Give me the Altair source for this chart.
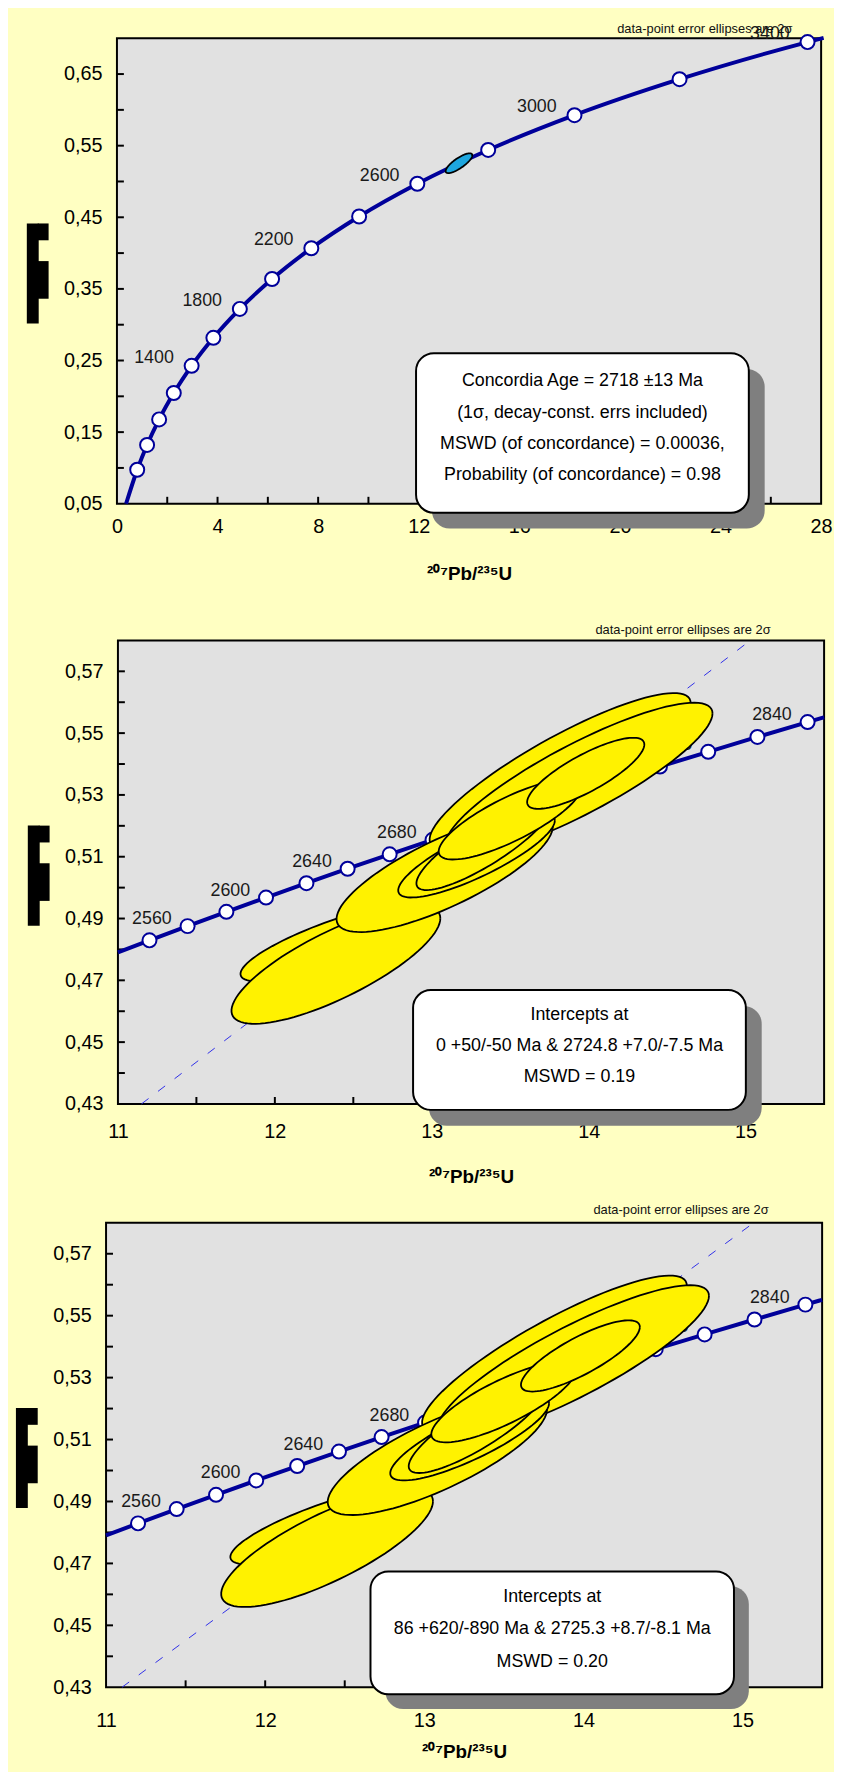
import altair as alt
import numpy as np
import pandas as pd

BG = "#FFFFC2"
PLOT_BG = "#E1E1E1"
NAVY = "#00009A"
YELLOW = "#FFF200"
CYAN = "#1EA6DE"
FONT = "Liberation Sans"
NOTE = "data-point error ellipses are 2σ"
XTITLE = "²⁰⁷Pb/²³⁵U"

# ---------------- panel 1 : concordia 0-28 ----------------
p1_ages = [600, 800, 1000, 1200, 1400, 1600, 1800, 2000, 2200, 2400, 2600, 2800, 3000, 3200, 3400]
p1_x = [0.8056, 1.1987, 1.6774, 2.2603, 2.9701, 3.8344, 4.8871, 6.1685, 7.7292, 9.6296,
        11.9437, 14.7616, 18.193, 22.371, 27.460]
p1_y = [0.0975, 0.1321, 0.1678, 0.2046, 0.2426, 0.2817, 0.3221, 0.3638, 0.4068, 0.4511,
        0.4968, 0.5440, 0.5926, 0.6428, 0.6946]
p1_labels = [1400, 1800, 2200, 2600, 3000, 3400]
p1_curve_x = [0.363] + p1_x + [28.10]
p1_curve_y = [0.050] + p1_y + [0.7005]
p1_xlab = [0, 4, 8, 12, 16, 20, 24, 28]
p1_xtick = [2, 4, 6, 8, 10, 12, 14, 16, 18, 20, 22, 24, 26]
p1_ylab = [0.05, 0.15, 0.25, 0.35, 0.45, 0.55, 0.65]
p1_ytick = [0.10, 0.15, 0.20, 0.25, 0.30, 0.35, 0.40, 0.45, 0.50, 0.55, 0.60, 0.65]
# concordia-age ellipse: centre x, centre y, half-width x, half-height y, correlation
p1_ell = [(13.60, 0.5255, 0.53, 0.0138, 0.80)]
p1_box = ["Concordia Age = 2718 ±13 Ma", "(1σ, decay-const. errs included)",
          "MSWD (of concordance) = 0.00036,", "Probability (of concordance) = 0.98"]

# ---------------- panels 2 and 3 : zoomed concordia ----------------
p23_ages = [2540, 2560, 2580, 2600, 2620, 2640, 2660, 2680, 2700, 2720, 2740, 2760, 2780, 2800, 2820, 2840]
p23_x = [11.2010, 11.4437, 11.6912, 11.9437, 12.2012, 12.4638, 12.7316, 13.0047, 13.2833, 13.5674,
         13.8572, 14.1527, 14.4542, 14.7616, 15.0751, 15.3949]
p23_y = [0.48293, 0.48754, 0.49216, 0.49679, 0.50145, 0.50611, 0.51079, 0.51548, 0.52020, 0.52492,
         0.52966, 0.53441, 0.53918, 0.54396, 0.54876, 0.55357]
p23_labels = [2560, 2600, 2640, 2680, 2720, 2760, 2800, 2840]
p23_curve_x = [11.0] + p23_x + [15.5]
p23_curve_y = [0.47906] + p23_y + [0.55513]
p23_xlab = [11, 12, 13, 14, 15]
p23_xtick = [11.5, 12, 12.5, 13, 13.5, 14, 14.5, 15]
p23_ylab = [0.43, 0.45, 0.47, 0.49, 0.51, 0.53, 0.55, 0.57]
p23_ytick = [0.44, 0.45, 0.46, 0.47, 0.48, 0.49, 0.50, 0.51, 0.52, 0.53, 0.54, 0.55, 0.56, 0.57]

# data-point error ellipses (back to front)
ell_cx = [13.818, 13.937, 12.409, 12.389, 13.082, 13.285, 13.333, 13.499, 13.981]
ell_cy = [0.5376, 0.5351, 0.4826, 0.4751, 0.5048, 0.5104, 0.5138, 0.5221, 0.5370]
ell_sx = [0.832, 0.852, 0.628, 0.6655, 0.689, 0.499, 0.431, 0.455, 0.3735]
ell_sy = [0.02535, 0.02473, 0.01299, 0.01917, 0.01917, 0.0136, 0.0146, 0.0130, 0.0115]
ell_rho = [0.87, 0.86, 0.81, 0.78, 0.78, 0.83, 0.85, 0.80, 0.81]
p23_ell = list(zip(ell_cx, ell_cy, ell_sx, ell_sy, ell_rho))

p2_disc_x = [11.15, 15.03]
p2_disc_y = [0.43, 0.58]
p3_disc_x = [11.10, 15.07]
p3_disc_y = [0.43, 0.58]

p2_box = ["Intercepts at", "0 +50/-50 Ma & 2724.8 +7.0/-7.5 Ma", "MSWD = 0.19"]
p3_box = ["Intercepts at", "86 +620/-890 Ma & 2725.3 +8.7/-8.1 Ma", "MSWD = 0.20"]


def ellipse_df(cx, cy, sx, sy, rho, n=96):
    t = np.linspace(0, 2 * np.pi, n)
    r = np.sqrt(1 - rho ** 2)
    return pd.DataFrame({"x": cx + sx * np.cos(t),
                         "y": cy + sy * (rho * np.cos(t) + r * np.sin(t)),
                         "i": np.arange(n)})


ONE = pd.DataFrame({"a": [0]})
RIGHT = 832      # right edge of the chart on the page
EXT = 95         # left extent of every panel beyond its plot area


def vrect(x1, x2, y1, y2, **kw):
    return alt.Chart(ONE).mark_rect(**kw).encode(
        x=alt.value(x1), x2=alt.value(x2), y=alt.value(y1), y2=alt.value(y2))


def vtext(s, x, y, **kw):
    return alt.Chart(ONE).mark_text(font=FONT, **kw).encode(
        x=alt.value(x), y=alt.value(y), text=alt.value(s))


def spacer(w):
    return vrect(0, 1, 0, 1, opacity=0).properties(
        width=w, height=1, view=alt.ViewBackground(fill="transparent", stroke="transparent"))


def panel(c):
    W, H, L, T = c["W"], c["H"], c["L"], c["T"]
    xs = alt.Scale(domain=c["xdom"], nice=False, zero=False)
    ys = alt.Scale(domain=c["ydom"], nice=False, zero=False)
    xaxis = alt.Axis(values=c["xlab"], format="d", title=XTITLE, labelFlush=False,
                     labelPadding=c["lpad"], titlePadding=c["tpad"])
    yaxis = alt.Axis(values=c["ylab"], title=None, labelPadding=15,
                     labelExpr="replace(format(datum.value, '.2f'), '.', ',')")
    X = alt.X("x:Q", scale=xs, axis=xaxis)
    Y = alt.Y("y:Q", scale=ys, axis=yaxis)

    layers = []
    # layout anchor (invisible): fixes the panel's extent on the page
    layers.append(vrect(-EXT, RIGHT - L, c["band"][0] - T, c["band"][1] - T, opacity=0))

    # inward tick marks
    layers.append(alt.Chart(pd.DataFrame({"x": c["xtick"]})).mark_rule(color="black", strokeWidth=2)
                  .encode(x=X, y=alt.value(H), y2=alt.value(H - 7)))
    layers.append(alt.Chart(pd.DataFrame({"y": c["ytick"]})).mark_rule(color="black", strokeWidth=2)
                  .encode(y=Y, x=alt.value(0), x2=alt.value(7)))

    if c.get("disc"):
        dx, dy = c["disc"]
        layers.append(alt.Chart(pd.DataFrame({"x": dx, "y": dy})).mark_line(
            color="#2F2FE8", strokeWidth=1, strokeDash=[9, 12]).encode(x=X, y=Y))

    cdf = pd.DataFrame({"x": c["cx"], "y": c["cy"], "i": range(len(c["cx"]))})
    layers.append(alt.Chart(cdf).mark_line(color=NAVY, strokeWidth=4, interpolate="monotone")
                  .encode(x=X, y=Y, order="i:Q"))
    mdf = pd.DataFrame({"x": c["mx"], "y": c["my"], "age": c["ages"]})
    layers.append(alt.Chart(mdf).mark_circle(color="white", stroke=NAVY, strokeWidth=2,
                                             size=200, opacity=1).encode(x=X, y=Y))
    ldf = mdf[mdf["age"].isin(c["labels"])]
    layers.append(alt.Chart(ldf).mark_text(font=FONT, fontSize=18, color="#1a1a1a",
                                           dx=c["ldx"], dy=c["ldy"])
                  .encode(x=X, y=Y, text="age:N"))

    for (ecx, ecy, esx, esy, er) in c["ell"]:
        layers.append(alt.Chart(ellipse_df(ecx, ecy, esx, esy, er)).mark_line(
            fill=c["ecolor"], stroke="black", strokeWidth=1.8, interpolate="linear")
            .encode(x=X, y=Y, order="i:Q"))

    # note above plot
    layers.append(vtext(NOTE, c["note"][0], c["note"][1], fontSize=13, align="right",
                        baseline="alphabetic", color="#111"))

    # garbled y-axis title (black blocks)
    layers.append(vrect(-91, -79, 187, 288, color="black"))
    layers.append(vrect(-80, -69, 187, 204, color="black"))
    layers.append(vrect(-80, -69, 225, 263, color="black"))

    # result box with shadow
    bx1, bx2, by1, by2 = c["box"]
    sh = c["shadow"]
    layers.append(vrect(bx1 + sh, bx2 + sh, by1 + sh, by2 + sh, color="#7F7F7F", cornerRadius=18))
    layers.append(vrect(bx1, bx2, by1, by2, fill="white", stroke="black", strokeWidth=2,
                        cornerRadius=18))
    for s, yy in zip(c["lines"], c["line_y"]):
        layers.append(vtext(s, (bx1 + bx2) / 2, yy, fontSize=18, align="center",
                            baseline="middle", color="black"))

    body = alt.layer(*layers).properties(width=W, height=H)
    # shift the panel horizontally on the page with an empty spacer to its left
    return alt.hconcat(spacer(L - 8 - EXT), body, spacing=0)


p1 = panel(dict(W=711, H=470, L=115, T=29, band=(8, 600), lpad=13, tpad=28,
                xdom=[0, 28], ydom=[0.05, 0.70], xlab=p1_xlab, xtick=p1_xtick,
                ylab=p1_ylab, ytick=p1_ytick, cx=p1_curve_x, cy=p1_curve_y,
                mx=p1_x, my=p1_y, ages=p1_ages, labels=p1_labels, ldx=-38, ldy=-8,
                ell=p1_ell, ecolor=CYAN, note=(682, -5),
                box=(302, 638, 318, 479), shadow=16, lines=p1_box, line_y=[346, 378, 410, 441]))

p2 = panel(dict(W=713, H=468, L=116, T=635, band=(600, 1190), lpad=18, tpad=26,
                xdom=[11, 15.5], ydom=[0.43, 0.58], xlab=p23_xlab, xtick=p23_xtick,
                ylab=p23_ylab, ytick=p23_ytick, cx=p23_curve_x, cy=p23_curve_y,
                mx=p23_x, my=p23_y, ages=p23_ages, labels=p23_labels, ldx=-36, ldy=-7,
                ell=p23_ell, ecolor=YELLOW, disc=(p2_disc_x, p2_disc_y), note=(659, -6),
                box=(298, 634, 353, 474), shadow=16, lines=p2_box, line_y=[378, 410, 441]))

p3 = panel(dict(W=723, H=469, L=104, T=1221, band=(1190, 1766), lpad=24, tpad=12,
                xdom=[11, 15.5], ydom=[0.43, 0.58], xlab=p23_xlab, xtick=p23_xtick,
                ylab=p23_ylab, ytick=p23_ytick, cx=p23_curve_x, cy=p23_curve_y,
                mx=p23_x, my=p23_y, ages=p23_ages, labels=p23_labels, ldx=-36, ldy=-7,
                ell=p23_ell, ecolor=YELLOW, disc=(p3_disc_x, p3_disc_y), note=(669, -9),
                box=(267, 634, 352, 476), shadow=15, lines=p3_box, line_y=[378, 410, 444]))

chart = alt.concat(p1, p2, p3, columns=1, spacing=0, align="none", padding=0).configure(
    background=BG, font=FONT
).configure_view(
    fill=PLOT_BG, stroke="black", strokeWidth=2
).configure_axis(
    domain=False, ticks=False, grid=False, labelFont=FONT, labelFontSize=20,
    labelColor="black", titleFont=FONT, titleFontSize=19, titleFontWeight="bold",
    titleColor="black"
)

chart.save("out.html", embed_options={"renderer": "svg", "actions": False})
